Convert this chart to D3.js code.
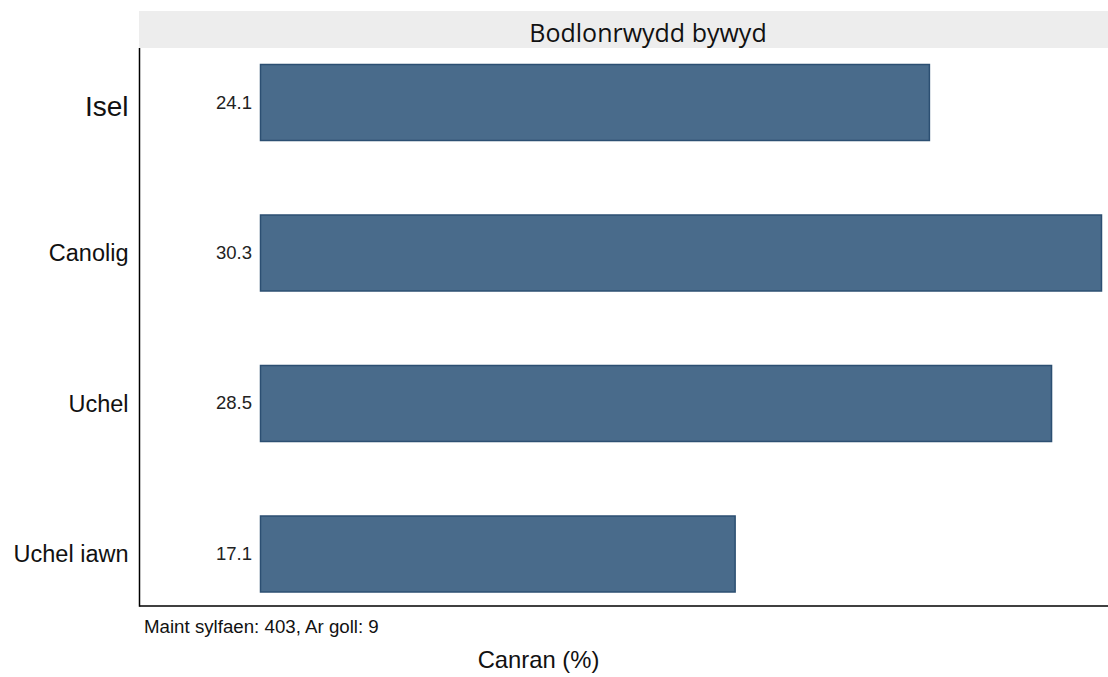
<!DOCTYPE html>
<html>
<head>
<meta charset="utf-8">
<script src="https://cdn.jsdelivr.net/npm/d3@7"></script>
<style>
  html, body { margin: 0; padding: 0; background: #ffffff; }
  svg { display: block; }
</style>
</head>
<body>
<svg id="chart" width="1108" height="677"></svg>
<script>
const categories = ["Isel", "Canolig", "Uchel", "Uchel iawn"];
const values = [24.1, 30.3, 28.5, 17.1];
const valueLabels = ["24.1", "30.3", "28.5", "17.1"];
const stripTitle = "Bodlonrwydd bywyd";
const xTitle = "Canran (%)";
const footnote = "Maint sylfaen: 403, Ar goll: 9";

const svg = d3.select("#chart");
const W = 1108, H = 677;
const panelLeft = 139.5, panelRight = 1108, panelTop = 48, panelBottom = 606;

const x = d3.scaleLinear().domain([0, d3.max(values)]).range([260, 1101]);
const y = d3.scaleBand().domain(categories).range([64, 591.5]).paddingInner(0.495).paddingOuter(0);

// strip
svg.append("rect").attr("x", 139).attr("y", 11).attr("width", panelRight - 139).attr("height", 37)
  .attr("fill", "#ededed");
svg.append("text").attr("x", 648).attr("y", 32).attr("text-anchor", "middle")
  .attr("dominant-baseline", "central")
  .attr("font-family", "'Open Sans', 'DejaVu Sans', sans-serif").attr("font-size", 25)
  .attr("fill", "#111").text(stripTitle);

// bars
const data = categories.map((c, i) => ({ c, v: values[i], l: valueLabels[i] }));
svg.selectAll("rect.bar").data(data).enter().append("rect").attr("class", "bar")
  .attr("x", x(0) + 0.5).attr("y", d => y(d.c) + 0.5)
  .attr("width", d => x(d.v) - x(0)).attr("height", y.bandwidth())
  .attr("fill", "#496b8b").attr("stroke", "#2c4f72").attr("stroke-width", 1.5);

// value labels
svg.selectAll("text.val").data(data).enter().append("text").attr("class", "val")
  .attr("x", 252).attr("y", d => y(d.c) + y.bandwidth() / 2)
  .attr("text-anchor", "end").attr("dominant-baseline", "central")
  .attr("font-family", "'Liberation Sans', Arial, sans-serif").attr("font-size", 18.5)
  .attr("fill", "#222").text(d => d.l);

// category labels (y axis)
const yAxis = d3.axisLeft(y).tickSize(0).tickPadding(11);
const gy = svg.append("g").attr("transform", `translate(${panelLeft},0)`).call(yAxis);
gy.select(".domain").remove();
gy.selectAll(".tick text")
  .attr("font-family", "'Liberation Sans', Arial, sans-serif")
  .attr("font-size", (d, i) => i === 0 ? 28 : 23.5)
  .attr("fill", "#111").attr("dy", (d, i) => i === 0 ? "0.5em" : "0.38em");

// axis lines
svg.append("line").attr("x1", panelLeft).attr("x2", panelLeft).attr("y1", panelTop).attr("y2", panelBottom + 0.75)
  .attr("stroke", "#000").attr("stroke-width", 1.5);
svg.append("line").attr("x1", panelLeft).attr("x2", panelRight).attr("y1", panelBottom).attr("y2", panelBottom)
  .attr("stroke", "#000").attr("stroke-width", 1.5);

// footnote
svg.append("text").attr("x", 144).attr("y", 633)
  .attr("font-family", "'Liberation Sans', Arial, sans-serif").attr("font-size", 18.7)
  .attr("fill", "#111").text(footnote);

// x title
svg.append("text").attr("x", 538.5).attr("y", 668).attr("text-anchor", "middle")
  .attr("font-family", "'Liberation Sans', Arial, sans-serif").attr("font-size", 23.8)
  .attr("fill", "#111").text(xTitle);
</script>
</body>
</html>
